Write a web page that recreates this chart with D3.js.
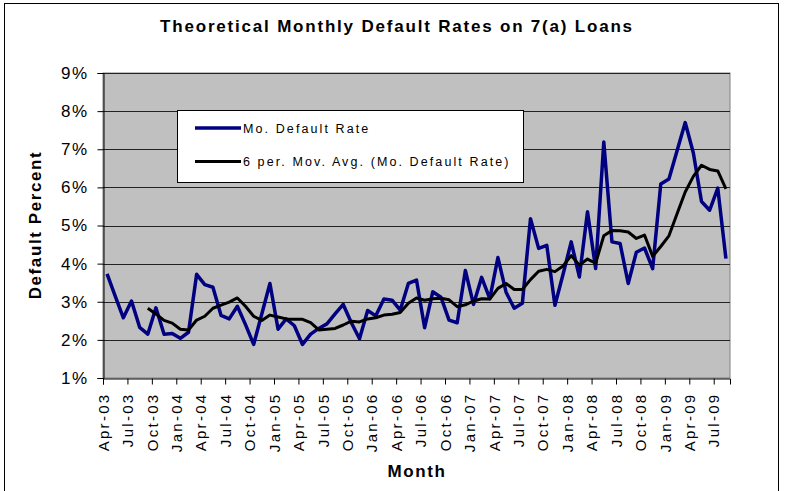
<!DOCTYPE html>
<html>
<head>
<meta charset="utf-8">
<script src="https://cdn.jsdelivr.net/npm/d3@7"></script>
<style>
  body { margin: 0; background: #fff; }
  text { font-family: "Liberation Sans", Arial, sans-serif; }
</style>
</head>
<body>
<div id="chart"></div>
<script>
const months = [
  "Apr-03","May-03","Jun-03","Jul-03","Aug-03","Sep-03","Oct-03","Nov-03","Dec-03",
  "Jan-04","Feb-04","Mar-04","Apr-04","May-04","Jun-04","Jul-04","Aug-04","Sep-04","Oct-04","Nov-04","Dec-04",
  "Jan-05","Feb-05","Mar-05","Apr-05","May-05","Jun-05","Jul-05","Aug-05","Sep-05","Oct-05","Nov-05","Dec-05",
  "Jan-06","Feb-06","Mar-06","Apr-06","May-06","Jun-06","Jul-06","Aug-06","Sep-06","Oct-06","Nov-06","Dec-06",
  "Jan-07","Feb-07","Mar-07","Apr-07","May-07","Jun-07","Jul-07","Aug-07","Sep-07","Oct-07","Nov-07","Dec-07",
  "Jan-08","Feb-08","Mar-08","Apr-08","May-08","Jun-08","Jul-08","Aug-08","Sep-08","Oct-08","Nov-08","Dec-08",
  "Jan-09","Feb-09","Mar-09","Apr-09","May-09","Jun-09","Jul-09","Aug-09"
];

// monthly default rate (%)
const defaultRate = [
  3.73, 3.15, 2.58, 3.02, 2.33, 2.15, 2.84, 2.15, 2.17,
  2.04, 2.20, 3.72, 3.45, 3.38, 2.64, 2.55, 2.88, 2.40, 1.88, 2.68, 3.48,
  2.28, 2.55, 2.37, 1.88, 2.15, 2.30, 2.42, 2.68, 2.93, 2.45, 2.03, 2.77,
  2.63, 3.07, 3.04, 2.78, 3.48, 3.57, 2.32, 3.26, 3.12, 2.52, 2.45, 3.82,
  2.93, 3.64, 3.08, 4.16, 3.25, 2.83, 2.96, 5.18, 4.40, 4.48, 2.91, 3.72,
  4.57, 3.65, 5.36, 3.87, 7.19, 4.57, 4.53, 3.48, 4.30, 4.41, 3.87, 6.09,
  6.22, 6.96, 7.70, 6.90, 5.63, 5.40, 5.98, 4.13
];

// 6 per. moving average (starts at Sep-03)
const movAvg = [
  null, null, null, null, null, 2.83, 2.68, 2.51, 2.44,
  2.28, 2.26, 2.52, 2.62, 2.83, 2.91, 2.99, 3.10, 2.88, 2.62, 2.51, 2.65,
  2.60, 2.55, 2.54, 2.54, 2.45, 2.26, 2.28, 2.30, 2.39, 2.49, 2.47, 2.55,
  2.58, 2.65, 2.67, 2.72, 2.96, 3.10, 3.04, 3.08, 3.09, 3.05, 2.87, 2.92,
  3.02, 3.08, 3.07, 3.35, 3.48, 3.32, 3.32, 3.58, 3.80, 3.85, 3.79, 3.94,
  4.21, 3.96, 4.12, 4.01, 4.73, 4.87, 4.86, 4.83, 4.66, 4.75, 4.19, 4.45,
  4.73, 5.31, 5.88, 6.29, 6.58, 6.47, 6.43, 5.96
];

const yTicks = [1, 2, 3, 4, 5, 6, 7, 8, 9];

const width = 788, height = 491;
const plot = {left: 103, right: 730, top: 73, bottom: 378};

const svg = d3.select("#chart")
  .append("svg")
  .attr("width", width)
  .attr("height", height);

// chart area border
svg.append("rect")
  .attr("x", 4.5).attr("y", 3.5)
  .attr("width", 774).attr("height", 500)
  .attr("fill", "#fff")
  .attr("stroke", "#000");

// month index -> x; points sit mid-month
const x = d3.scaleLinear()
  .domain([0, months.length])
  .range([plot.left, plot.right]);

const y = d3.scaleLinear()
  .domain([1, 9])
  .range([plot.bottom, plot.top]);

svg.append("rect")
  .attr("x", plot.left).attr("y", plot.top)
  .attr("width", plot.right - plot.left)
  .attr("height", plot.bottom - plot.top)
  .attr("fill", "#c0c0c0")
  .attr("stroke", "#808080");

// gridlines
svg.append("g")
  .selectAll("line")
  .data(yTicks.slice(1))
  .join("line")
  .attr("x1", plot.left).attr("x2", plot.right)
  .attr("y1", d => Math.round(y(d)) + 0.5)
  .attr("y2", d => Math.round(y(d)) + 0.5)
  .attr("stroke", "#222")
  .attr("stroke-width", 1);

// y axis
const yAxis = svg.append("g")
  .attr("transform", `translate(${plot.left + 0.5},0)`)
  .call(d3.axisLeft(y).tickValues(yTicks).tickSize(6).tickPadding(9).tickFormat(d => d + "%"));
yAxis.select(".domain").attr("stroke", "#000");
yAxis.selectAll(".tick line").attr("stroke", "#000");
yAxis.selectAll("text")
  .style("font-size", "17px")
  .style("letter-spacing", "1.5px")
  .attr("fill", "#000");

// x axis
const tickIdx = months.map((m, i) => i).filter(i => i % 3 === 0);
const xAxis = svg.append("g")
  .attr("transform", `translate(0,${plot.bottom + 0.5})`)
  .call(d3.axisBottom(x).tickValues(tickIdx).tickSize(6).tickFormat(i => months[i]));
xAxis.select(".domain").attr("stroke", "#000");
xAxis.selectAll(".tick line").attr("stroke", "#000");
xAxis.selectAll("text")
  .attr("transform", "rotate(-90)")
  .attr("x", -14)
  .attr("y", 0)
  .attr("dy", "0.35em")
  .style("text-anchor", "end")
  .style("font-size", "15px")
  .style("letter-spacing", "2.3px")
  .attr("fill", "#000");

// lines
const line = d3.line()
  .defined(d => d != null)
  .x((d, i) => x(i + 0.5))
  .y(d => y(d));

svg.append("path")
  .datum(defaultRate)
  .attr("fill", "none")
  .attr("stroke", "#000080")
  .attr("stroke-width", 3.5)
  .attr("stroke-linejoin", "round")
  .attr("d", line);

svg.append("path")
  .datum(movAvg)
  .attr("fill", "none")
  .attr("stroke", "#000")
  .attr("stroke-width", 3)
  .attr("stroke-linejoin", "round")
  .attr("d", line);

// legend
const legend = svg.append("g");
legend.append("rect")
  .attr("x", 177.5).attr("y", 110.5)
  .attr("width", 346).attr("height", 72)
  .attr("fill", "#fff")
  .attr("stroke", "#000");

const legendItems = [
  {label: "Mo. Default Rate", color: "#000080", width: 3.5},
  {label: "6 per. Mov. Avg. (Mo. Default Rate)", color: "#000", width: 3}
];

legendItems.forEach((item, i) => {
  const ly = 128 + i * 33.5;
  legend.append("line")
    .attr("x1", 195).attr("x2", 241)
    .attr("y1", ly).attr("y2", ly)
    .attr("stroke", item.color)
    .attr("stroke-width", item.width);
  legend.append("text")
    .attr("x", 243)
    .attr("y", ly + 4.5)
    .style("font-size", "12.5px")
    .style("letter-spacing", "2.1px")
    .text(item.label);
});

// titles
svg.append("text")
  .attr("x", 397)
  .attr("y", 32)
  .style("text-anchor", "middle")
  .style("font-size", "17px")
  .style("font-weight", "bold")
  .style("letter-spacing", "1.8px")
  .text("Theoretical Monthly Default Rates on 7(a) Loans");

svg.append("text")
  .attr("transform", "rotate(-90)")
  .attr("x", -225)
  .attr("y", 41)
  .style("text-anchor", "middle")
  .style("font-size", "17px")
  .style("font-weight", "bold")
  .style("letter-spacing", "1.6px")
  .text("Default Percent");

svg.append("text")
  .attr("x", 417)
  .attr("y", 477)
  .style("text-anchor", "middle")
  .style("font-size", "17px")
  .style("font-weight", "bold")
  .style("letter-spacing", "1.6px")
  .text("Month");
</script>
</body>
</html>
